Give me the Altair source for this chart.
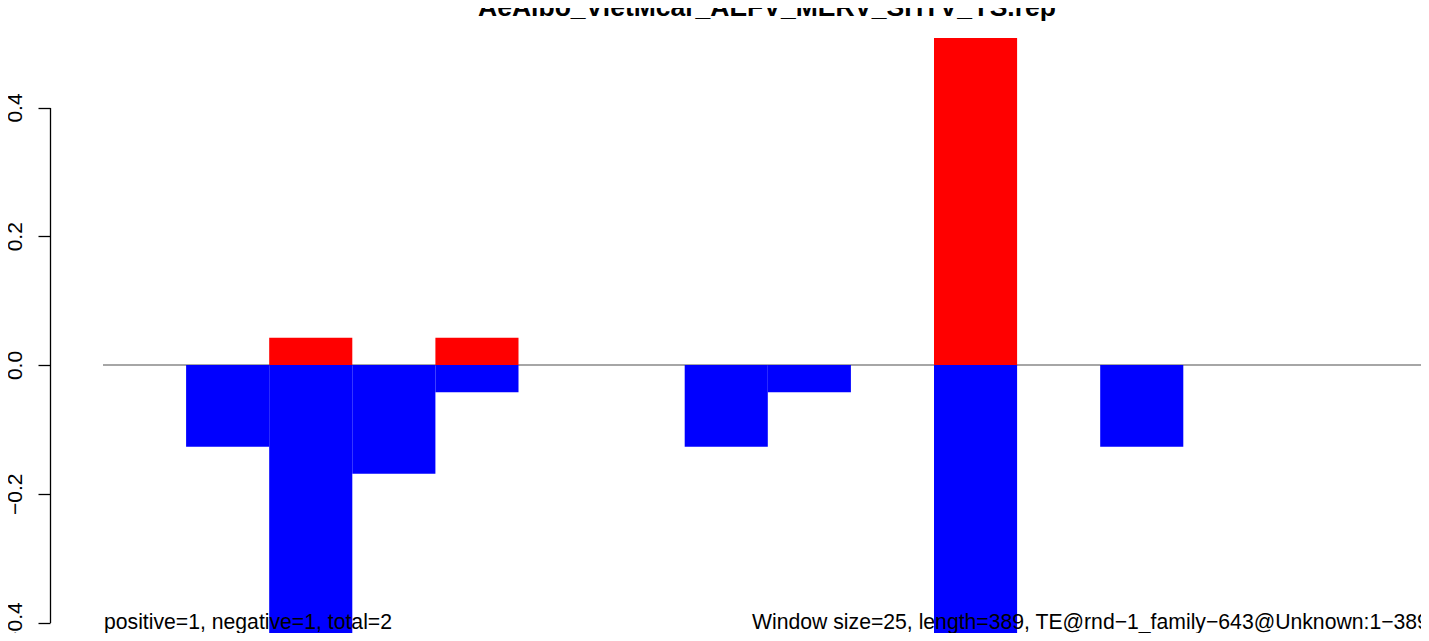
import altair as alt
import pandas as pd

title_text = "AeAlbo_VietMcar_AEFV_MERV_SHTV_YS.rep"
bins = list(range(16))
positive = [0, 0, 0.0423, 0, 0.0423, 0, 0, 0, 0, 0, 0.508, 0, 0, 0, 0, 0]
negative = [0, -0.127, -0.423, -0.169, -0.0423, 0, 0, -0.127, -0.0423, 0, -0.423, 0, -0.127, 0, 0, 0]
y_ticks = [-0.4, -0.2, 0.0, 0.2, 0.4]
left_note = "positive=1, negative=1, total=2"
right_note = "Window size=25, length=389, TE@rnd\u22121_family\u2212643@Unknown:1\u2212389"

rows = []
for b, p, n in zip(bins, positive, negative):
    if p:
        rows.append({"bin": b, "end": b + 1, "value": p, "zero": 0, "sign": "positive"})
    if n:
        rows.append({"bin": b, "end": b + 1, "value": n, "zero": 0, "sign": "negative"})
df = pd.DataFrame(rows)

line_df = pd.DataFrame({"x": [bins[0]], "x2": [bins[-1] + 1], "y": [0]})

FONT = "Liberation Sans"
xs = alt.Scale(domain=[0, 16], range=[95, 1424.6], nice=False, zero=False)
ys = alt.Scale(domain=[-0.4, 0.4], range=[614.5, 99.5], nice=False, zero=False)
yaxis = alt.Axis(values=y_ticks, format=".1f", title=None, grid=False, domain=True,
                 domainColor="black", domainWidth=1.3, tickColor="black", tickWidth=1.3,
                 tickSize=12, labelAngle=270, labelAlign="center", labelBaseline="alphabetic",
                 labelPadding=17, labelFontSize=21, labelFont=FONT, labelColor="black",
                 offset=-42, labelOverlap=False, labelFlush=False)

zero_line = alt.Chart(line_df).mark_rule(color="#a6a6a6", strokeWidth=1.8).encode(
    x=alt.X("x:Q", scale=xs, axis=None),
    x2="x2:Q",
    y=alt.Y("y:Q", scale=ys, axis=yaxis),
)

bars = alt.Chart(df).mark_rect().encode(
    x=alt.X("bin:Q", scale=xs, axis=None),
    x2="end:Q",
    y=alt.Y("value:Q", scale=ys, axis=yaxis),
    y2="zero:Q",
    color=alt.Color("sign:N", scale=alt.Scale(domain=["positive", "negative"],
                                              range=["#ff0000", "#0000ff"]), legend=None),
)

title = alt.Chart(pd.DataFrame({"t": [title_text]})).mark_text(
    font=FONT, fontSize=26.5, fontWeight="bold", align="center", baseline="alphabetic", color="black"
).encode(text="t:N", x=alt.value(759), y=alt.value(8))

note_left = alt.Chart(pd.DataFrame({"t": [left_note]})).mark_text(
    font=FONT, fontSize=21.2, align="left", baseline="alphabetic", color="black"
).encode(text="t:N", x=alt.value(96), y=alt.value(621))

note_right = alt.Chart(pd.DataFrame({"t": [right_note]})).mark_text(
    font=FONT, fontSize=21.2, align="left", baseline="alphabetic", color="black"
).encode(text="t:N", x=alt.value(744), y=alt.value(621))

chart = alt.layer(zero_line, bars, title, note_left, note_right).properties(
    width=1413, height=625,
    autosize=alt.AutoSizeParams(type="none"),
    padding=0,
    background="white",
).configure_view(strokeWidth=0, stroke=None)

chart.save("out.html", embed_options={"renderer": "svg", "actions": False})
